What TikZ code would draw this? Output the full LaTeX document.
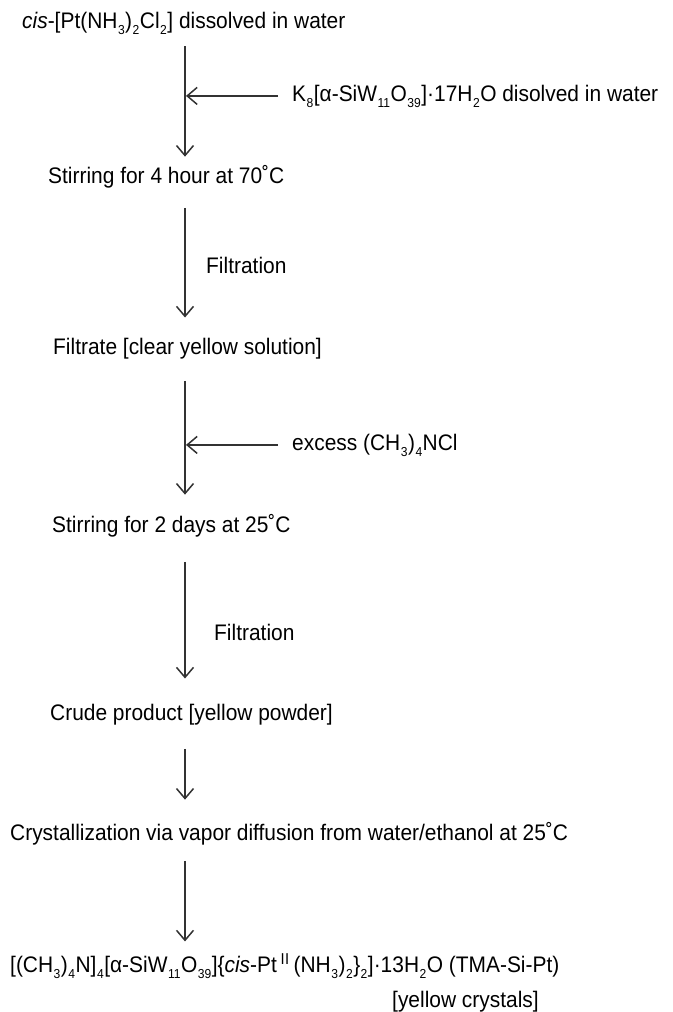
\documentclass[tikz,border=0pt]{standalone}
\usepackage{fontspec}
\setmainfont{Liberation Sans}[FakeStretch=0.93]
\usepackage{tikz}
\usetikzlibrary{arrows.meta,calc}
\definecolor{arrowgray}{RGB}{50, 50, 50}
\newcommand{\chsub}[1]{\kern0.5pt\raisebox{-6pt}{\fontsize{13}{13}\selectfont #1}\kern0.5pt}

\begin{document}
\begin{tikzpicture}[x=1pt,y=-1pt,
    stepnode/.style={anchor=base west,inner sep=0pt,font=\fontsize{22.5}{26}\selectfont},
    flow/.style={draw=arrowgray,line width=1.5pt,-{Straight Barb[length=10pt,width=17pt]}}]
    \useasboundingbox (0,0) rectangle (672,1012);
    \coordinate (axis) at (185,0);

    % steps of the synthesis
    \node[stepnode] (s0) at (22,28) {\textit{cis}-[Pt(NH\chsub{3})\chsub{2}Cl\chsub{2}] dissolved in water};
    \node[stepnode] (s1) at (48,183) {Stirring for 4 hour at 70˚C};
    \node[stepnode] (s2) at (53,354) {Filtrate [clear yellow solution]};
    \node[stepnode] (s3) at (52,532) {Stirring for 2 days at 25˚C};
    \node[stepnode] (s4) at (50,720) {Crude product [yellow powder]};
    \node[stepnode] (s5) at (10,840) {Crystallization via vapor diffusion from water/ethanol at 25˚C};
    \node[stepnode] (s6) at (10,972) {[(CH\chsub{3})\chsub{4}N]\chsub{4}[α-SiW\chsub{11}O\chsub{39}]\{\textit{cis}-Pt\,$^{\mathrm{II}}$\,(NH\chsub{3})\chsub{2}\}\chsub{2}]·13H\chsub{2}O (TMA-Si-Pt)};
    \node[stepnode] (s7) at (392,1007) {[yellow crystals]};

    % reagents added and labels
    \node[stepnode] (add1) at (292,101) {K\chsub{8}[α-SiW\chsub{11}O\chsub{39}]·17H\chsub{2}O disolved in water};
    \node[stepnode] (add2) at (292,450) {excess (CH\chsub{3})\chsub{4}NCl};
    \node[stepnode] (lab1) at (206,273) {Filtration};
    \node[stepnode] (lab2) at (214,640) {Filtration};

    % flow arrows
    \draw[flow,shorten <=12pt,shorten >=8pt] (s0.south -| axis) -- (s1.north -| axis);
    \draw[flow,shorten <=20pt,shorten >=20pt] (s1.south -| axis) -- (s2.north -| axis);
    \draw[flow,shorten <=22pt,shorten >=19pt] (s2.south -| axis) -- (s3.north -| axis);
    \draw[flow,shorten <=25pt,shorten >=25pt] (s3.south -| axis) -- (s4.north -| axis);
    \draw[flow,shorten <=24pt,shorten >=22pt] (s4.south -| axis) -- (s5.north -| axis);
    \draw[flow,shorten <=16pt,shorten >=12pt] (s5.south -| axis) -- (s6.north -| axis);
    \draw[flow,shorten <=14pt,shorten >=1pt] (add1.west) -- (add1.west -| axis);
    \draw[flow,shorten <=14pt,shorten >=1pt] (add2.west) -- (add2.west -| axis);
\end{tikzpicture}
\end{document}
